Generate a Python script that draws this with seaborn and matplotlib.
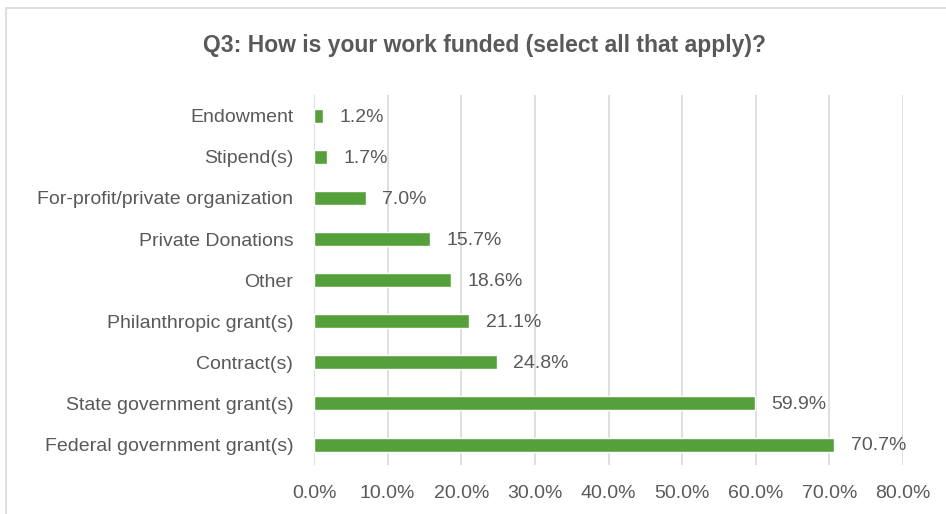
import matplotlib
matplotlib.use("Agg")
import matplotlib.pyplot as plt
import seaborn as sns
import pandas as pd
from matplotlib.patches import Rectangle
from matplotlib.ticker import FuncFormatter

# Q3 funding sources (percent of respondents)
categorias = ['Endowment', 'Stipend(s)', 'For-profit/private organization',
              'Private Donations', 'Other', 'Philanthropic grant(s)',
              'Contract(s)', 'State government grant(s)', 'Federal government grant(s)']
valores = [1.2, 1.7, 7.0, 15.7, 18.6, 21.1, 24.8, 59.9, 70.7]

df = pd.DataFrame({'Fonte': categorias, 'Pct': valores})

sns.set_style('white')
plt.rcParams['font.family'] = ['Liberation Sans', 'DejaVu Sans']
cinza = '#595959'
verde = '#55a03b'

fig = plt.figure(figsize=(9.46, 5.14), dpi=100)
ax = fig.add_axes([0.332, 0.095, 0.6225, 0.72])

sns.barplot(data=df, x='Pct', y='Fonte', orient='h', color=verde,
            width=0.34, saturation=1, ax=ax, zorder=3)

# rotulos de dados
for i, v in enumerate(valores):
    ax.annotate(f'{v:.1f}%', xy=(v, i), xytext=(12, -1), textcoords='offset points',
                va='center', ha='left', fontsize=14, color=cinza)

ax.set_xlim(0, 80)
ax.set_xticks(range(0, 81, 10))
ax.xaxis.set_major_formatter(FuncFormatter(lambda x, p: f'{x:.1f}%'))
ax.grid(axis='x', color='#d9d9d9', linewidth=1.2, zorder=0)
ax.set_xlabel('')
ax.set_ylabel('')
for s in ax.spines.values():
    s.set_visible(False)
ax.tick_params(axis='both', length=0, labelsize=14, colors=cinza)
ax.tick_params(axis='x', pad=14)
ax.tick_params(axis='y', pad=15)

fig.text(0.512, 0.912, 'Q3: How is your work funded (select all that apply)?',
         ha='center', va='center', fontsize=16.5, fontweight='bold', color=cinza)

# borda do grafico
fig.patches.append(Rectangle((0.006, -0.05), 1.1, 1.034, transform=fig.transFigure,
                             fill=False, edgecolor='#d9d9d9', linewidth=1.2))

fig.savefig('out.png', dpi=100)
